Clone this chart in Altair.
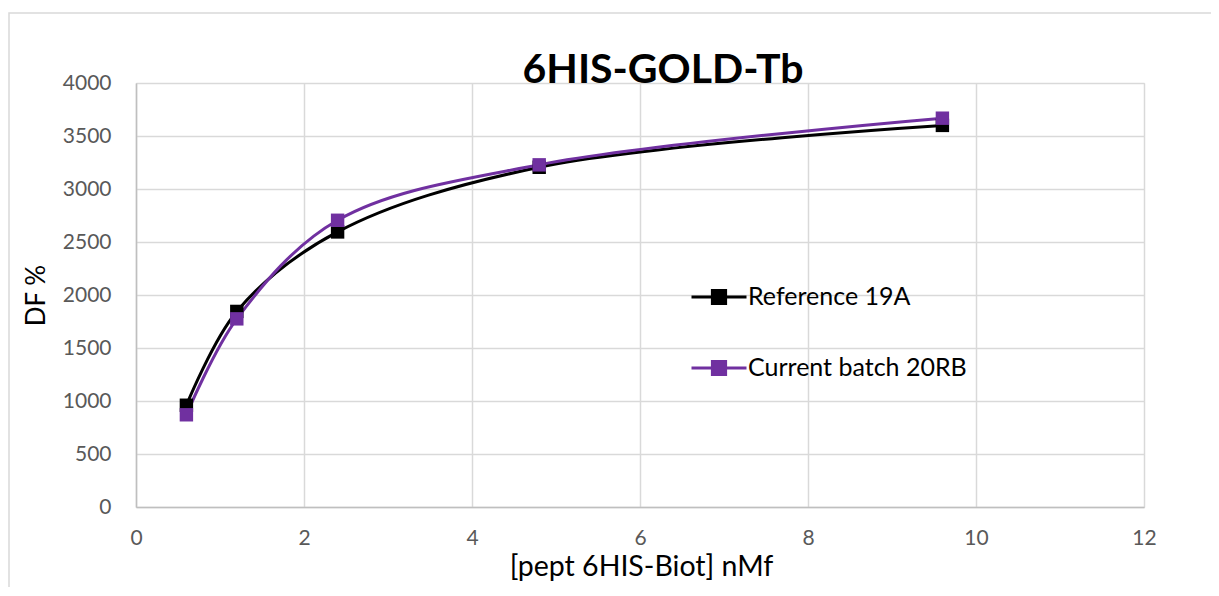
import altair as alt
import pandas as pd

conc = [0.6, 1.2, 2.4, 4.8, 9.6]
ref_19a = [960, 1845, 2595, 3205, 3600]
cur_20rb = [870, 1775, 2705, 3228, 3668]
series_names = ["Reference 19A", "Current batch 20RB"]
series_colors = ["#000000", "#7030A0"]

rows = []
for name, vals in zip(series_names, [ref_19a, cur_20rb]):
    for x, y in zip(conc, vals):
        rows.append({"x": x, "y": y, "series": name})
df = pd.DataFrame(rows)

FONT = "Lato"
W, H = 1008, 424

color = alt.Color(
    "series:N",
    scale=alt.Scale(domain=series_names, range=series_colors),
    sort=series_names,
    legend=alt.Legend(
        title=None,
        orient="none",
        legendX=554,
        legendY=185,
        symbolType="M-1,0L1,0M-0.24,-0.24H0.24V0.24H-0.24Z",
        symbolSize=3025,
        symbolStrokeWidth=3,
        labelFontSize=25,
        labelFont=FONT,
        labelColor="#000000",
        labelOffset=0,
        rowPadding=29,
        labelLimit=400,
    ),
)

xenc = alt.X(
    "x:Q",
    scale=alt.Scale(domain=[0, 12], nice=False),
    axis=alt.Axis(
        values=[0, 2, 4, 6, 8, 10, 12],
        format="d",
        title="[pept 6HIS-Biot] nMf",
        titleFontSize=28.5,
        titleFontWeight="normal",
        titleFont=FONT,
        titleColor="#000000",
        titleX=505,
        titleY=59,
        titleAlign="center",
        titleBaseline="middle",
        labelFontSize=21,
        labelFont=FONT,
        labelColor="#595959",
        labelPadding=20,
        labelFlush=False,
        ticks=False,
        domainColor="#BFBFBF",
        domainWidth=1.5,
        gridColor="#D9D9D9",
        gridWidth=1.5,
    ),
)
yenc = alt.Y(
    "y:Q",
    scale=alt.Scale(domain=[0, 4000], nice=False),
    axis=alt.Axis(
        values=list(range(0, 4001, 500)),
        format="d",
        title="DF %",
        titleFontSize=26,
        titleFontWeight="normal",
        titleFont=FONT,
        titleColor="#000000",
        titleX=-100,
        titleY=212,
        titleAlign="center",
        titleBaseline="middle",
        labelFontSize=21,
        labelFont=FONT,
        labelColor="#595959",
        labelPadding=25,
        labelFlush=False,
        ticks=False,
        domainColor="#BFBFBF",
        domainWidth=1.5,
        gridColor="#D9D9D9",
        gridWidth=1.5,
    ),
)

frame = alt.Chart(pd.DataFrame({"a": [0]})).mark_rect(
    fill=None, stroke="#D9D9D9", strokeWidth=1.5
).encode(
    x=alt.value(-127), x2=alt.value(W + 200), y=alt.value(-70), y2=alt.value(H + 200)
)

lines = alt.Chart(df).mark_line(interpolate="catmull-rom", strokeWidth=3).encode(
    x=xenc, y=yenc, color=color, order=alt.Order("x:Q")
)
points = alt.Chart(df).mark_point(shape="square", filled=True, size=180, opacity=1).encode(
    x="x:Q", y="y:Q", color=alt.Color("series:N", scale=alt.Scale(domain=series_names, range=series_colors), legend=None)
)

chart = alt.layer(frame, lines, points).properties(
    width=W,
    height=H,
    title=alt.TitleParams(
        "6HIS-GOLD-Tb",
        fontSize=41,
        fontWeight="bold",
        font=FONT,
        color="#000000",
        anchor="middle",
        frame="group",
        baseline="alphabetic",
        dx=23,
        offset=-112,
    ),
    padding={"left": 128, "top": 75, "right": 67, "bottom": 80},
    autosize=alt.AutoSizeParams(type="none"),
).configure_view(stroke=None).configure(background="white")

chart.save("out.html", embed_options={"renderer": "svg", "actions": False})
